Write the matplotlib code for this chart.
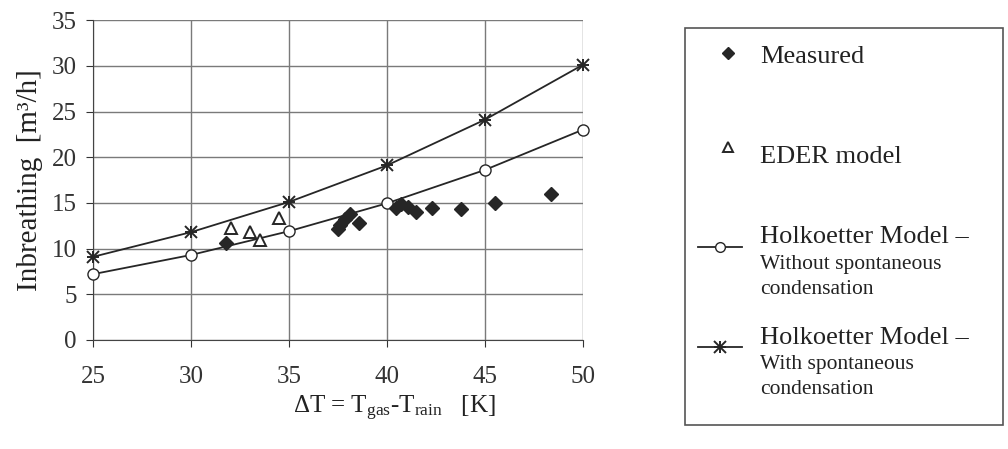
# Inbreathing vs temperature difference
import matplotlib.pyplot as plt
from matplotlib.lines import Line2D
from matplotlib.patches import Rectangle

plt.rcParams['font.family'] = ['Liberation Serif', 'DejaVu Serif']
plt.rcParams['mathtext.fontset'] = 'custom'
plt.rcParams['mathtext.rm'] = 'Liberation Serif'
plt.rcParams['mathtext.it'] = 'Liberation Serif:italic'

# model curves
dT_model = [25, 30, 35, 40, 45, 50]
without_cond = [7.2, 9.3, 11.9, 14.95, 18.6, 23.0]
with_cond = [9.1, 11.8, 15.1, 19.1, 24.1, 30.1]

# EDER model
dT_eder = [32.06, 33.0, 33.5, 34.5]
eder = [12.3, 11.85, 10.9, 13.3]

# measured
dT_meas = [31.8, 37.5, 37.6, 37.85, 38.1, 38.6, 40.45, 40.7, 41.1, 41.5, 42.3, 43.8, 45.5, 48.4]
measured = [10.65, 12.1, 12.6, 13.2, 13.75, 12.8, 14.4, 14.9, 14.5, 14.0, 14.4, 14.3, 15.0, 16.0]

xticks = [25, 30, 35, 40, 45, 50]
yticks = [0, 5, 10, 15, 20, 25, 30, 35]

ink = '#262626'
txt = '#222222'

fig = plt.figure(figsize=(10.08, 4.49), dpi=100)
ax = fig.add_axes([0.0925, 0.243, 0.4855, 0.712])

ax.plot(dT_model, with_cond, color=ink, lw=1.3, marker='x', ms=9, mew=1.4, zorder=3, clip_on=False)
ax.plot(dT_model, with_cond, color=ink, lw=0, marker='+', ms=9, mew=1.4, zorder=3, clip_on=False)
ax.plot(dT_model, without_cond, color=ink, lw=1.3, marker='o', ms=8, mfc='white', mec=ink, mew=1.0,
        zorder=3, clip_on=False)
ax.plot(dT_eder, eder, ls='none', marker='^', ms=8, mfc='white', mec=ink, mew=1.4, zorder=4)
ax.plot(dT_meas, measured, ls='none', marker='D', ms=7, color=ink, zorder=4)

ax.set_xlim(25, 50)
ax.set_ylim(0, 35)
ax.set_xticks(xticks)
ax.set_yticks(yticks)
ax.grid(True, color='#7a7a7a', lw=1.0)
ax.set_axisbelow(True)
for s in ['top', 'right']:
    ax.spines[s].set_visible(False)
for s in ['left', 'bottom']:
    ax.spines[s].set_color('#444444')
ax.tick_params(axis='both', labelsize=18, colors='#333333', length=5, direction='out')
ax.tick_params(axis='x', pad=14)
ax.tick_params(axis='y', pad=7)

ax.set_ylabel('Inbreathing  [m³/h]', fontsize=21, color=txt, labelpad=6)
fig.text(0.391, 0.09, r'$\Delta$T = T$_{\mathrm{gas}}$-T$_{\mathrm{rain}}$   [K]',
         fontsize=18, color=txt, ha='center', va='center')

# legend drawn by hand
fig.patches.append(Rectangle((685 / 1008, 1 - 425 / 449), 318 / 1008, 397 / 449,
                             transform=fig.transFigure, fill=False, ec='#555555', lw=1.2))

def px(x, y):
    return x / 1008, 1 - y / 449

fig.lines.append(Line2D(*zip(px(728, 53)), transform=fig.transFigure, ls='none',
                        marker='D', ms=6, color=ink))
fig.text(*px(760, 57), 'Measured', fontsize=19, va='center', color=txt)

fig.lines.append(Line2D(*zip(px(728, 147)), transform=fig.transFigure, ls='none',
                        marker='^', ms=7, mfc='white', mec=ink, mew=1.4))
fig.text(*px(760, 157), 'EDER model', fontsize=19, va='center', color=txt)

x0, y0 = px(698, 247)
x1, _ = px(742, 247)
fig.lines.append(Line2D([x0, (x0 + x1) / 2, x1], [y0, y0, y0], transform=fig.transFigure,
                        color=ink, lw=1.3, marker='o', markevery=[1], ms=7, mfc='white', mew=1.0))
fig.text(*px(760, 237), 'Holkoetter Model –', fontsize=19, va='center', color=txt)
fig.text(*px(760, 264), 'Without spontaneous', fontsize=15.5, va='center', color=txt)
fig.text(*px(760, 289), 'condensation', fontsize=15.5, va='center', color=txt)

x0, y0 = px(698, 347)
x1, _ = px(742, 347)
fig.lines.append(Line2D([x0, (x0 + x1) / 2, x1], [y0, y0, y0], transform=fig.transFigure,
                        color=ink, lw=1.3, marker='x', markevery=[1], ms=8, mew=1.4))
fig.lines.append(Line2D([(x0 + x1) / 2], [y0], transform=fig.transFigure,
                        ls='none', color=ink, marker='+', ms=8, mew=1.4))
fig.text(*px(760, 338), 'Holkoetter Model –', fontsize=19, va='center', color=txt)
fig.text(*px(760, 364), 'With spontaneous', fontsize=15.5, va='center', color=txt)
fig.text(*px(760, 389), 'condensation', fontsize=15.5, va='center', color=txt)

plt.savefig('out.png', dpi=100)
